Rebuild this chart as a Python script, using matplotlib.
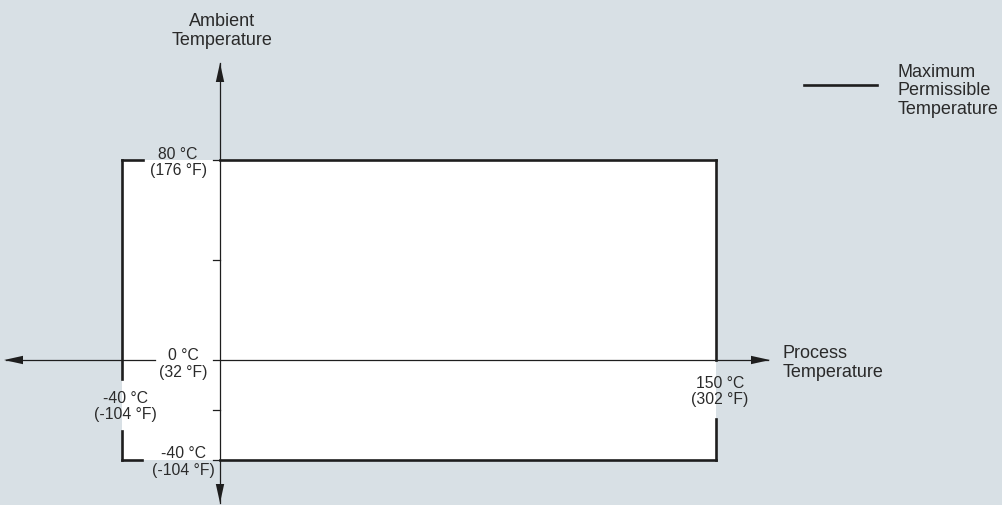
import numpy as np
import matplotlib
matplotlib.use("Agg")
import matplotlib.pyplot as plt
from matplotlib.patches import Polygon
from matplotlib.lines import Line2D
from matplotlib.transforms import IdentityTransform

# ---- data ----
process_range_c = [-40, 150]          # permissible process temperature
ambient_range_c = [-40, 80]           # permissible ambient temperature
ambient_ticks_c = [-40, -20, 0, 40, 80]
top_label = "80 °C\n(176 °F)"
zero_label = "0 °C\n(32 °F)"
left_label = "-40 °C\n(-104 °F)"
bottom_label = "-40 °C\n(-104 °F)"
right_label = "150 °C\n(302 °F)"
y_title = "Ambient\nTemperature"
x_title = "Process\nTemperature"
legend_text = "Maximum\nPermissible\nTemperature"

BG = "#d8e0e5"
INK = "#1e1e1e"
TXT = "#2a2a2a"
FONT = ["Liberation Sans", "DejaVu Sans"]

W, H = 1003, 505
fig = plt.figure(figsize=(W / 100, H / 100), dpi=100, facecolor=BG)
ax = fig.add_axes([0, 0, 1, 1])
ax.set_facecolor(BG)
ax.axis("off")

# schematic (non-uniform) process-temperature scale
def fwd(x):
    x = np.asarray(x, dtype=float)
    return np.where(x < 0, x * 2.45, x * 3.3067)

def inv(v):
    v = np.asarray(v, dtype=float)
    return np.where(v < 0, v / 2.45, v / 3.3067)

ax.set_xscale("function", functions=(fwd, inv))
ax.set_xlim(-89.8, 236.8)
ax.set_ylim(-58, 144)

ID = IdentityTransform()

def disp(x, y):
    return ax.transData.transform((x, y))

xmin, xmax = process_range_c
ymin, ymax = ambient_range_c
L, T = disp(xmin, ymax)
R, B = disp(xmax, ymin)
X0, Y0 = disp(0, 0)

# white permissible area
ax.fill_between(process_range_c, [ymin, ymin], [ymax, ymax], color="white", lw=0, zorder=1)

thick = dict(color=INK, lw=1.9, solid_capstyle="projecting", zorder=4, transform=ID)
thin = dict(color=INK, lw=0.9, zorder=3, transform=ID)

def seg(p, q, **kw):
    ax.add_line(Line2D([p[0], q[0]], [p[1], q[1]], **kw))

# border with gaps for the labels
seg((L, T), (L + 21, T), **thick)
seg((X0, T), (R, T), **thick)
seg((L, T), (L, Y0 - 19), **thick)
seg((L, B + 29), (L, B), **thick)
seg((L, B), (L + 20, B), **thick)
seg((X0, B), (R, B), **thick)
seg((R, T), (R, Y0), **thick)
seg((R, B + 41), (R, B), **thick)

# axes lines
seg((X0, 2), (X0, H - 63), **thin)
seg((6, Y0), (X0 - 65, Y0), **thin)
seg((X0 - 7, Y0), (768, Y0), **thin)

# ticks on the ambient axis
for t in ambient_ticks_c:
    if t == 0:
        continue
    _, ty = disp(0, t)
    seg((X0 - 7, ty), (X0, ty), **thin)

def arrow(tip, direction, length=19, half=4.2):
    tx, ty = tip
    dx, dy = direction
    bx, by = tx - dx * length, ty - dy * length
    px, py = -dy, dx
    ax.add_patch(Polygon([(tx, ty), (bx + px * half, by + py * half), (bx - px * half, by - py * half)],
                         closed=True, color=INK, lw=0, zorder=5, transform=ID))

arrow((X0, H - 63), (0, 1))
arrow((X0, 2), (0, -1))
arrow((770, Y0), (1, 0))
arrow((4, Y0), (-1, 0))

# tick labels
tk = dict(fontsize=11.3, color=TXT, ha="center", va="center", linespacing=1.12,
          family=FONT, textcoords="offset pixels", zorder=6)
ax.annotate(top_label, (0, ymax), xytext=(-42, -2.5), **tk)
ax.annotate(zero_label, (0, 0), xytext=(-37, -4), **tk)
ax.annotate(left_label, (xmin, 0), xytext=(3, -46.5), **tk)
ax.annotate(bottom_label, (0, ymin), xytext=(-37, -2), **tk)
ax.annotate(right_label, (xmax, 0), xytext=(4, -31.5), **tk)

# axis titles
tt = dict(fontsize=13, color=TXT, va="center", linespacing=1.15, family=FONT,
          textcoords="offset pixels", zorder=6)
ax.annotate(y_title, (0, ymax), xytext=(2, 129), ha="center", **tt)
ax.annotate(x_title, (xmax, 0), xytext=(67, -3), ha="left", **tt)

# legend
seg((804, H - 85), (877, H - 85), color=INK, lw=1.9, transform=ID, zorder=4)
fig.text(898 / W, 1 - 91 / H, legend_text, fontsize=13, color=TXT, ha="left", va="center",
         linespacing=1.15, family=FONT)

fig.savefig("out.png", dpi=100, facecolor=BG)
